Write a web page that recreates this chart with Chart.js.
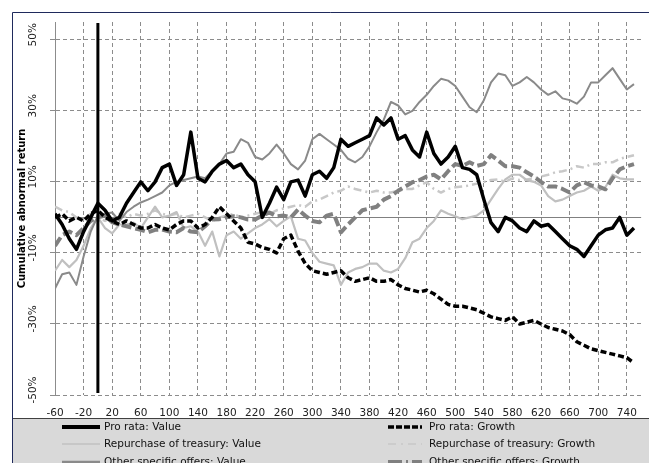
<!DOCTYPE html>
<html><head><meta charset="utf-8">
<script src="https://cdn.jsdelivr.net/npm/chart.js@4.4.0/dist/chart.umd.min.js"></script>
<style>html,body{margin:0;padding:0;background:#fff;}canvas{display:block;}</style>
</head><body>
<canvas id="c" width="649" height="463"></canvas>
<script>
const days = [-60,-50,-40,-30,-20,-10,0,10,20,30,40,50,60,70,80,90,100,110,120,130,140,150,160,170,180,190,200,210,220,230,240,250,260,270,280,290,300,310,320,330,340,350,360,370,380,390,400,410,420,430,440,450,460,470,480,490,500,510,520,530,540,550,560,570,580,590,600,610,620,630,640,650,660,670,680,690,700,710,720,730,740,750];
const proRataValue = [1,-2,-6,-9,-4,0,4,2,-1,0, 4,7,10,7.5,10,14,15,9,12,24, 11,10,13,15,16,14,15,12,10,0, 4,8.5,5,10,10.5,6,12,13,11,14, 22,20,21,22,23,28,26,28,22,23, 19,17,24,18,15,17,20,14,13.5,12, 5,-1.5,-4,0,-1,-3,-4,-1,-2.5,-2, -4,-6,-8,-9,-11,-8,-5,-3.5,-3,0, -5,-3];
const proRataGrowth = [0,1,-1,0,-1,1,2,0,-1,-2, -1,-2,-3,-3,-2,-3,-3.5,-2,-1,-1, -3,-2,0,3,1,-1,-3,-7,-7.5,-8.5, -9,-10,-6,-5,-9.5,-13,-15,-15.5,-16,-15.5, -15,-17,-18,-17.5,-17,-18,-18,-17.5,-19,-20, -20.5,-21,-20.5,-21.5,-23,-24.5,-25,-25,-25.5,-26, -27,-28,-28.5,-29,-28,-30,-29.5,-29,-30,-31, -31.5,-32,-33,-35,-36,-37,-37.5,-38,-38.5,-39, -39.5,-41];
const treasuryValue = [-15,-12,-14,-12,-8,-3,0,-3,-4.5,-2, -2,-1.5,-3,0,3,0,0.5,1.5,-3,-2.5, -4,-8,-4,-11,-5,-4,-6,-4.5,-3,-2, -0.5,-2.5,-1,0.3,-6,-6.5,-10,-12.5,-13,-13.5, -19,-15.5,-14.5,-14,-13,-13,-15,-15.5,-14.5,-11.5, -7,-6,-3,-1,2,1,0.3,-0.5,0,0.5, 2,5,8,10.7,12,12,10.5,10,9,6, 4.5,5,6,7,7.5,8.7,7.5,8.5,12,11, 10.7,10.7];
const treasuryGrowth = [3,2,1.5,0,-0.5,1,0,-1,0,1, 0,1,0.5,1,2,1,0.5,1,0,0.5, 1,0,-1,0,0.5,1,0,0.5,1,1.5, 1,2,2.5,3,3.5,3,4.5,5,6,7, 7.5,8.7,8,7.5,7,7.5,7,7,7.5,8, 8,9,9.9,8,7,8,8.5,8.7,9,9.5, 10,10.5,10.7,10,11,10.5,10.7,11,11.5,12, 12.7,13,13.5,14.4,14,15,15,15.5,15.5,16.5, 17,17.5];
const otherValue = [-20,-16,-15.5,-19,-11,-4,0.5,1,1.4,-1, 1.5,3,4.2,5,6,7,9,10,10.5,11, 11.5,11,13,15,18,18.5,22,21,17,16.3, 18,20.5,18,15,13.5,16,22,23.5,22,20.5, 19,16.5,15.5,17,20,24,27.5,32.5,31.5,29, 30,32.5,34.5,37,39,38.5,37,34,31,29.6, 33,38,40.5,40,37,38,39.5,38,36,34.5, 35.5,33.5,33,32,34,38,38,40,42,39, 36,37.5];
const otherGrowth = [-8,-5,-4,-5,-3,-1,0,0.5,-1.4,-2, -2.5,-3,-3.5,-4.2,-3.5,-3.4,-4,-4.2,-3,-4, -4.2,-2.5,-0.6,-0.5,0,0.3,0,-0.6,-0.6,0.5, 1.4,0.3,0.5,0,2.2,0.5,-1,-1.4,0.5,1, -4.2,-2,0,2,2.5,3,5,6,7.5,8.7, 9.9,10.5,11.5,12,10.7,13,15,14.5,15.5,14.5, 15,17.5,16,14.4,14.4,14,12.7,11.5,10,8.7, 8.7,8,7,9,9.9,9,8.7,7.9,11,13.5, 14.4,15];
const seriesNames = ['Pro rata: Value','Pro rata: Growth','Repurchase of treasury: Value','Repurchase of treasury: Growth','Other specific offers: Value','Other specific offers: Growth'];
const xTicks = [-60,-20,20,60,100,140,180,220,260,300,340,380,420,460,500,540,580,620,660,700,740];
const yTicks = [-50,-30,-10,10,30,50];
const yTickLabels = ['-50%','-30%','-10%','10%','30%','50%'];
const yTitle = 'Cumulative abnormal return';
const eventDay = 0;

const FONT = 'DejaVu Sans';
Chart.defaults.font.family = FONT;
Chart.defaults.color = '#222';

function pts(vals){ return days.map((d,i)=>({x:d,y:vals[i]})); }

const styles = [
  {c:'#000000', w:3.5, d:[], o:1, lw:4, ld:[]},
  {c:'#000000', w:3.5, d:[6,3], o:2, lw:3.5, ld:[6,2]},
  {c:'#c0c0c0', w:2.2, d:[], o:5, lw:1.5, ld:[]},
  {c:'#c8c8c8', w:2.5, d:[8,4,2,4], o:6, lw:1.5, ld:[8,5,2,5]},
  {c:'#8a8a8a', w:2, d:[], o:4, lw:2.5, ld:[]},
  {c:'#808080', w:4, d:[10,4], o:3, lw:4, ld:[14,4,2,4]}
];
const allVals = [proRataValue, proRataGrowth, treasuryValue, treasuryGrowth, otherValue, otherGrowth];

const bgPlugin = {
  id:'bg',
  beforeDraw(chart){
    const ctx = chart.ctx;
    ctx.save();
    ctx.fillStyle = '#ffffff';
    ctx.fillRect(0,0,chart.width,chart.height);
    ctx.fillStyle = '#d9d9d9';
    ctx.fillRect(13,418,chart.width-13,chart.height-418);
    ctx.strokeStyle = '#404040'; ctx.lineWidth = 1;
    ctx.beginPath(); ctx.moveTo(13,418.5); ctx.lineTo(chart.width,418.5); ctx.stroke();
    ctx.strokeStyle = '#1f2a5c';
    ctx.beginPath(); ctx.moveTo(12.5,chart.height); ctx.lineTo(12.5,12.5); ctx.lineTo(chart.width,12.5); ctx.stroke();
    ctx.restore();
  },
  beforeDatasetsDraw(chart){
    const {ctx, chartArea:a, scales:{y}} = chart;
    const py = Math.round(y.getPixelForValue(0))+0.5;
    ctx.save(); ctx.strokeStyle='#808080'; ctx.lineWidth=1;
    ctx.beginPath(); ctx.moveTo(a.left,py); ctx.lineTo(a.right,py); ctx.stroke(); ctx.restore();
  },
  afterDatasetsDraw(chart){
    const {ctx, chartArea:a, scales:{x}} = chart;
    const px = x.getPixelForValue(eventDay);
    ctx.save(); ctx.strokeStyle='#000'; ctx.lineWidth=3;
    ctx.beginPath(); ctx.moveTo(px,a.top+1); ctx.lineTo(px,a.bottom-2); ctx.stroke(); ctx.restore();
  },
  afterDraw(chart){
    const {ctx, scales:{y}} = chart;
    ctx.save();
    ctx.font = '10.5px "'+FONT+'"'; ctx.fillStyle = '#222';
    ctx.textAlign='center'; ctx.textBaseline='middle';
    yTicks.forEach((v,i)=>{
      const py = y.getPixelForValue(v);
      ctx.save(); ctx.translate(33, py-5); ctx.rotate(-Math.PI/2);
      ctx.fillText(yTickLabels[i],0,0); ctx.restore();
    });
    // legend
    const rows=[427,444,462];
    const cols=[{x0:62,x1:100,tx:104},{x0:388,x1:422,tx:429}];
    chart.data.datasets.forEach((ds,i)=>{
      const col=cols[i%2], ry=rows[Math.floor(i/2)], s=styles[i];
      ctx.save();
      ctx.strokeStyle=s.c; ctx.lineWidth=s.lw; ctx.setLineDash(s.ld);
      ctx.beginPath(); ctx.moveTo(col.x0,ry); ctx.lineTo(col.x1,ry); ctx.stroke();
      ctx.restore();
      ctx.textAlign='left'; ctx.fillStyle='#111';
      ctx.fillText(ds.label,col.tx,ry);
    });
    ctx.restore();
  }
};

new Chart(document.getElementById('c'), {
  type:'line',
  data:{datasets: allVals.map((v,i)=>({
    label: seriesNames[i], data: pts(v), borderColor: styles[i].c, borderWidth: styles[i].w,
    borderDash: styles[i].d, order: styles[i].o, pointRadius:0, tension:0, fill:false,
    borderJoinStyle:'round'
  }))},
  options:{
    responsive:false, animation:false, devicePixelRatio:1,
    layout:{padding:{left:12,right:6,top:22,bottom:45}},
    plugins:{legend:{display:false}, tooltip:{enabled:false}},
    scales:{
      x:{type:'linear', min:-60, max:760,
        afterBuildTicks(s){ s.ticks = xTicks.map(v=>({value:v})); },
        afterFit(s){ s.height = 23; },
        grid:{color:'#8c8c8c', lineWidth:1, drawTicks:false},
        border:{display:false, dash:[4,3]},
        ticks:{padding:12, maxRotation:0, autoSkip:false, font:{size:10.5}, color:'#222'}
      },
      y:{type:'linear', min:-50, max:55,
        afterBuildTicks(s){ s.ticks = yTicks.map(v=>({value:v})); },
        afterFit(s){ s.width = 43; },
        grid:{color:'#8c8c8c', lineWidth:1, drawTicks:true, tickLength:5},
        border:{display:true, color:'#8c8c8c', dash:[4,3]},
        ticks:{display:false},
        title:{display:true, text:yTitle, color:'#000', font:{size:10, weight:'bold'}, padding:{top:4,bottom:0}}
      }
    }
  },
  plugins:[bgPlugin]
});
</script>
</body></html>
